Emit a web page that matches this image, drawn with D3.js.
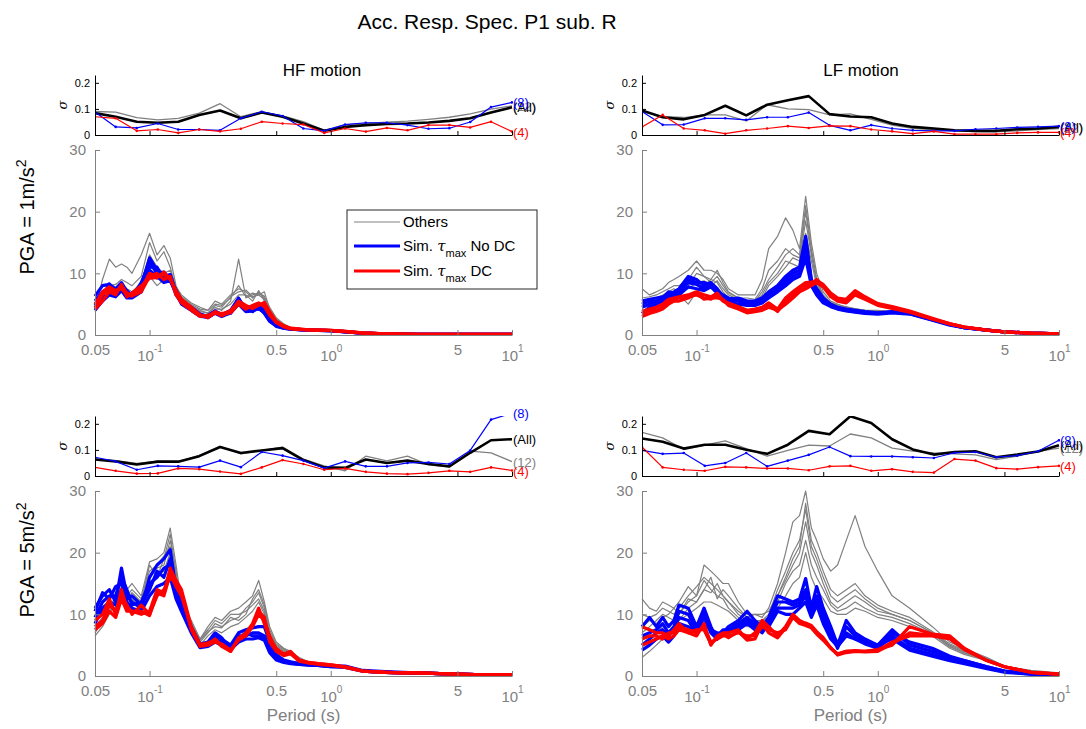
<!DOCTYPE html>
<html>
<head>
<meta charset="utf-8">
<script src="https://cdn.jsdelivr.net/npm/d3@7"></script>
<style>
  body { margin: 0; background: #fff; }
  svg { font-family: "Liberation Sans", Arial, Helvetica, sans-serif; }
</style>
</head>
<body>
<div id="chart"></div>
<script>
// period grid (s) of the spectra and of the sigma curves
var periods = [0.05, 0.055, 0.06, 0.065, 0.07, 0.075, 0.08, 0.09, 0.1, 0.11, 0.12, 0.13, 0.14, 0.15, 0.17, 0.19, 0.21, 0.23, 0.25, 0.28, 0.31, 0.34, 0.37, 0.4, 0.43, 0.46, 0.5, 0.55, 0.6, 0.67, 0.75, 0.85, 1.0, 1.2, 1.5, 2, 2.5, 3, 4, 5, 7, 10];
var sigmaPeriods = [0.05, 0.065, 0.085, 0.111, 0.144, 0.188, 0.245, 0.319, 0.416, 0.542, 0.706, 0.92, 1.2, 1.56, 2.04, 2.65, 3.46, 4.51, 5.88, 7.66, 10];

var xTicks = [0.05, 0.1, 0.5, 1, 5, 10];
var xTickLabels = [["0.05", ""], ["10", "-1"], ["0.5", ""], ["10", "0"], ["5", ""], ["10", "1"]];
var yTicksMain = [0, 10, 20, 30];
var yTicksSigma = [0, 0.1, 0.2];

// ---- HF motion, PGA = 1 m/s2
var hf1Grey = [
  [4, 9, 12.3, 11, 11.5, 11, 10, 13, 16.5, 13, 14.5, 12.5, 8, 6, 4.8, 4, 3.5, 4.5, 4, 5.5, 12.3, 6, 6.5, 6.8, 6.3, 4.5, 2.8, 1.8, 1.2, 1, 0.9, 0.85, 0.8, 0.6, 0.35, 0.2, 0.15, 0.12, 0.1, 0.1, 0.1, 0.1],
  [4.5, 7, 8, 8.2, 9, 8.5, 8, 9.5, 15, 12, 13.5, 11, 7.5, 6.2, 5, 4.2, 4, 5.5, 5, 6.5, 7.5, 7, 6, 7, 6, 4, 2.5, 1.6, 1.1, 0.95, 0.85, 0.8, 0.75, 0.6, 0.35, 0.2, 0.15, 0.12, 0.1, 0.1, 0.1, 0.1],
  [3.8, 5.5, 6.5, 6.3, 7.5, 6.5, 6.5, 8, 9.5, 8, 9, 8.5, 7, 5.5, 4.5, 3.5, 3.2, 4.2, 4.2, 5, 6.5, 6.5, 5.5, 7.2, 5.5, 3.8, 2.4, 1.5, 1.1, 0.9, 0.85, 0.8, 0.75, 0.6, 0.35, 0.2, 0.15, 0.12, 0.1, 0.1, 0.1, 0.1],
  [4.2, 6, 7, 7.5, 8.5, 7.5, 7, 8.5, 13, 11, 10, 10.5, 7.8, 6.5, 5.2, 4.5, 4, 5, 4.8, 6, 8, 6.2, 6.8, 6.5, 7, 4.2, 2.6, 1.7, 1.2, 1, 0.9, 0.85, 0.8, 0.6, 0.35, 0.2, 0.15, 0.12, 0.1, 0.1, 0.1, 0.1],
  [5, 6.5, 7.2, 7, 7.8, 7, 6.8, 7.8, 10.5, 9, 9.5, 9, 7.2, 5.8, 4.6, 3.8, 3.6, 4.8, 4.5, 6.2, 7, 7.3, 6.2, 6.5, 5.8, 3.6, 2.2, 1.5, 1.1, 0.9, 0.85, 0.8, 0.75, 0.6, 0.35, 0.2, 0.15, 0.12, 0.1, 0.1, 0.1, 0.1]
];
var hf1Blue = [
  [6.3, 8, 8.2, 7.5, 8.5, 7, 6.5, 8, 12.5, 10.5, 9.5, 9.8, 7, 5.5, 4.3, 3.2, 2.8, 3.6, 3.2, 3.8, 5.8, 4.2, 3.8, 4.5, 3.5, 2.2, 1.5, 1.2, 1, 0.85, 0.8, 0.75, 0.7, 0.55, 0.3, 0.2, 0.15, 0.12, 0.1, 0.1, 0.1, 0.1],
  [5.5, 7, 7.5, 7, 7.8, 6.6, 6.8, 7.5, 11, 11, 9, 9.3, 6.5, 5.3, 4.5, 3.4, 3, 3.7, 3.4, 3.5, 5.5, 4.6, 4, 4.8, 4.2, 2.6, 1.6, 1.2, 1, 0.9, 0.8, 0.8, 0.7, 0.55, 0.3, 0.2, 0.15, 0.12, 0.1, 0.1, 0.1, 0.1],
  [4.8, 6.2, 8.3, 6.8, 8, 7.2, 6.2, 8.5, 11.8, 10, 10.2, 9, 7.3, 5.6, 4.2, 3.1, 3.2, 3.9, 3.3, 4, 6, 4, 4.4, 4.2, 3.8, 2.4, 1.5, 1.1, 0.95, 0.85, 0.8, 0.75, 0.7, 0.5, 0.3, 0.2, 0.15, 0.12, 0.1, 0.1, 0.1, 0.1],
  [4, 5.5, 6.5, 6.2, 7.2, 6, 6, 7, 10.5, 9.5, 8.5, 8.8, 6.8, 5, 4, 3, 2.9, 3.5, 3, 3.6, 5, 3.8, 3.9, 4.3, 3.6, 2.3, 1.4, 1.1, 0.95, 0.85, 0.8, 0.75, 0.7, 0.5, 0.3, 0.2, 0.15, 0.12, 0.1, 0.1, 0.1, 0.1]
];
var hf1Red = [
  [4.5, 6.5, 7.5, 7, 8, 6.8, 6.5, 7.5, 10, 9.5, 9.8, 9.2, 7, 5.5, 4.2, 3.2, 3, 3.8, 3.3, 4, 5.3, 4.5, 4.6, 5, 5, 3.5, 2, 1.4, 1.1, 0.9, 0.85, 0.8, 0.75, 0.6, 0.35, 0.2, 0.15, 0.12, 0.1, 0.1, 0.1, 0.1],
  [5, 7, 7.8, 7.2, 7.5, 6.5, 6.3, 7, 9.5, 10, 9, 9.5, 6.5, 5.2, 4, 3, 3.2, 3.5, 3.5, 3.6, 5, 4.2, 4.8, 5.2, 4.6, 3.2, 2.1, 1.3, 1, 0.9, 0.8, 0.8, 0.7, 0.55, 0.3, 0.2, 0.15, 0.12, 0.1, 0.1, 0.1, 0.1],
  [4.2, 5.5, 7, 6.5, 8.2, 6.2, 6.8, 8, 9.2, 9.3, 10.2, 9, 7.2, 5.8, 4.5, 3.3, 2.8, 3.6, 3.1, 3.8, 5.5, 4.8, 4.3, 4.8, 5.3, 3.8, 2.2, 1.5, 1.1, 1, 0.85, 0.8, 0.75, 0.6, 0.35, 0.2, 0.15, 0.12, 0.1, 0.1, 0.1, 0.1]
];
var hf1SigAll = [0.084, 0.070, 0.051, 0.047, 0.051, 0.077, 0.094, 0.064, 0.086, 0.070, 0.044, 0.016, 0.031, 0.038, 0.042, 0.044, 0.048, 0.054, 0.064, 0.086, 0.106];
var hf1Sig12 = [0.090, 0.088, 0.067, 0.058, 0.064, 0.084, 0.120, 0.070, 0.090, 0.073, 0.051, 0.018, 0.040, 0.044, 0.049, 0.053, 0.060, 0.068, 0.081, 0.099, 0.112];
var hf1Sig8 = [0.088, 0.031, 0.027, 0.044, 0.021, 0.021, 0.018, 0.064, 0.089, 0.073, 0.025, 0.016, 0.040, 0.047, 0.047, 0.038, 0.024, 0.026, 0.050, 0.107, 0.125];
var hf1Sig4 = [0.070, 0.064, 0.016, 0.021, 0.008, 0.021, 0.014, 0.024, 0.051, 0.044, 0.040, 0.008, 0.025, 0.013, 0.027, 0.018, 0.038, 0.038, 0.029, 0.051, 0.013];

// ---- LF motion, PGA = 1 m/s2
var lf1Grey = [
  [7.5, 6.5, 7, 7.5, 8.5, 9, 9.5, 10.5, 12, 10.5, 10.5, 10, 9, 7.5, 6.5, 6.5, 6.5, 9, 14, 16, 19, 17, 14, 22.5, 15, 10, 7, 5.5, 5, 4.5, 4.3, 4, 4, 3.8, 3.5, 2.5, 1.7, 1.3, 0.8, 0.5, 0.3, 0.2],
  [5, 5.5, 6, 6.5, 7, 7.5, 7, 8, 10, 9.5, 9, 10.5, 8.5, 7, 6, 5.5, 5.5, 7, 9, 11, 13, 14, 13, 21, 14, 9, 6.5, 5.2, 4.8, 4.5, 4.2, 4, 3.8, 3.8, 3.5, 2.5, 1.7, 1.3, 0.8, 0.5, 0.3, 0.2],
  [4.5, 5, 5.2, 5.5, 6, 6.5, 6.5, 5, 7, 8, 9, 8.5, 7, 6, 5.5, 5.2, 5, 6, 8, 9.5, 11, 12.5, 12, 18.5, 13, 8.5, 6, 5, 4.6, 4.3, 4, 3.8, 3.7, 3.7, 3.4, 2.5, 1.7, 1.3, 0.8, 0.5, 0.3, 0.2],
  [6, 6.2, 6.5, 7, 7.5, 8, 8, 9, 11, 9.5, 8.5, 9.5, 8, 6.8, 6, 6, 5.8, 7.5, 10.5, 12, 14, 13, 12.5, 20, 13.5, 9, 6.2, 5.3, 4.8, 4.6, 4.2, 4, 3.9, 3.8, 3.5, 2.5, 1.7, 1.3, 0.8, 0.5, 0.3, 0.2],
  [5.5, 5.8, 6, 6.2, 6.8, 7, 7.2, 7.5, 8.5, 8.8, 8, 8.8, 7.5, 6.5, 5.8, 5.6, 5.4, 6.5, 8.5, 10, 12, 11.5, 11, 16.5, 12, 8, 6, 5, 4.5, 4.2, 4, 3.8, 3.6, 3.6, 3.4, 2.4, 1.6, 1.2, 0.8, 0.5, 0.3, 0.2]
];
var lf1Blue = [
  [5.5, 5.8, 6, 6.2, 6.5, 7, 7.5, 9.5, 9, 8, 8.5, 7.5, 6.2, 5.8, 6, 5.5, 5.5, 6, 7, 8, 9.5, 10.5, 11, 16, 9, 7.5, 6, 5, 4.5, 4.2, 4, 3.8, 3.6, 3.8, 3.6, 2.5, 1.7, 1.2, 0.8, 0.5, 0.3, 0.2],
  [4.5, 5, 5.5, 5.8, 6.2, 6.5, 7, 8.5, 8.2, 7.5, 8, 7, 6, 5.5, 5.5, 5, 5, 5.5, 6.5, 7.5, 8.5, 9.5, 10, 14, 8.5, 7, 5.5, 4.8, 4.3, 4, 3.8, 3.6, 3.5, 3.7, 3.5, 2.5, 1.7, 1.2, 0.8, 0.5, 0.3, 0.2],
  [3.5, 4.5, 5, 5.5, 6, 6.2, 6.5, 7.8, 7.5, 7.2, 7.8, 6.8, 5.8, 5.2, 5, 4.8, 4.8, 5.2, 6, 7, 8, 9, 9.5, 12.5, 8, 6.5, 5.2, 4.6, 4.2, 3.9, 3.7, 3.5, 3.4, 3.6, 3.4, 2.4, 1.6, 1.2, 0.8, 0.5, 0.3, 0.2],
  [5, 5.5, 5.5, 6, 7, 6.8, 7.2, 9, 8.5, 8.5, 8.2, 7.2, 6.5, 6, 5.8, 5.2, 5.3, 5.8, 6.8, 7.8, 9, 10, 10.5, 15, 8.8, 7.2, 5.8, 4.9, 4.4, 4.1, 3.9, 3.7, 3.5, 3.7, 3.5, 2.5, 1.7, 1.2, 0.8, 0.5, 0.3, 0.2]
];
var lf1Red = [
  [3.5, 4, 4, 4.5, 5.5, 5.8, 6, 6.2, 6.5, 6, 5.8, 6.5, 5.5, 5, 4.5, 3.8, 4, 4.3, 5, 3.8, 5.5, 6.5, 7.5, 8, 8.2, 9, 8, 6.5, 5.8, 5.5, 7, 6, 5, 4.5, 3.8, 2.6, 1.8, 1.3, 0.8, 0.5, 0.3, 0.2],
  [3, 3.5, 3.8, 4.2, 5, 5.5, 5.5, 6, 6.8, 5.8, 6, 6, 5.8, 4.8, 4.2, 3.6, 3.8, 4, 4.5, 4, 5, 6, 7, 7.5, 8, 8.5, 7.8, 6.2, 5.5, 5.2, 6.5, 5.8, 4.8, 4.3, 3.7, 2.6, 1.8, 1.3, 0.8, 0.5, 0.3, 0.2],
  [3.8, 4.2, 4.5, 5, 5.8, 6, 6.2, 6.5, 7, 6.5, 6.2, 6.8, 5.6, 5.2, 4.6, 4, 4.2, 4.5, 5.2, 4.2, 6, 7, 7.8, 8.5, 8.6, 8.8, 8.2, 6.8, 6, 5.8, 7.2, 6.2, 5.1, 4.6, 3.9, 2.7, 1.8, 1.3, 0.8, 0.5, 0.3, 0.2]
];
var lf1SigAll = [0.094, 0.068, 0.060, 0.077, 0.112, 0.075, 0.116, 0.133, 0.149, 0.080, 0.071, 0.068, 0.044, 0.031, 0.025, 0.018, 0.016, 0.016, 0.022, 0.025, 0.031];
var lf1Sig12 = [0.090, 0.070, 0.067, 0.077, 0.077, 0.054, 0.116, 0.100, 0.097, 0.077, 0.081, 0.060, 0.038, 0.025, 0.021, 0.016, 0.013, 0.012, 0.016, 0.021, 0.025];
var lf1Sig8 = [0.090, 0.039, 0.040, 0.064, 0.064, 0.058, 0.068, 0.068, 0.086, 0.037, 0.018, 0.038, 0.025, 0.018, 0.016, 0.016, 0.022, 0.025, 0.029, 0.031, 0.034];
var lf1Sig4 = [0.031, 0.077, 0.025, 0.018, 0.005, 0.018, 0.025, 0.034, 0.027, 0.035, 0.034, 0.021, 0.014, 0.005, 0.014, 0.003, 0.003, 0.003, 0.008, 0.010, 0.010];

// ---- HF motion, PGA = 5 m/s2
var hf5Grey = [
  [7, 9, 11, 13, 15, 14, 15, 13, 18.5, 19, 20, 24, 18, 12, 9, 6, 8, 9.5, 9, 10.5, 11, 12, 13, 15.5, 12, 8, 5.5, 4.5, 4, 3, 2.3, 2, 1.8, 1.6, 0.9, 0.7, 0.6, 0.5, 0.4, 0.3, 0.2, 0.2],
  [6.5, 8, 10, 12, 13, 12.5, 13.5, 12, 16, 17.5, 18, 22, 17, 11, 8, 5.5, 7, 8.5, 8, 9, 9.5, 11, 12, 13.5, 11, 7, 5, 4.2, 3.6, 2.8, 2.2, 2, 1.7, 1.5, 0.8, 0.6, 0.5, 0.5, 0.4, 0.3, 0.2, 0.2],
  [8, 9.5, 10.5, 12.5, 14, 13, 14, 12.5, 17, 18, 19.5, 21, 16, 11.5, 8.5, 6, 7.5, 9, 8.5, 10, 10, 10.5, 11.5, 12.5, 10.5, 6.5, 4.8, 4, 3.5, 2.7, 2.2, 1.9, 1.7, 1.5, 0.8, 0.6, 0.5, 0.5, 0.4, 0.3, 0.2, 0.2],
  [9.5, 10, 11.5, 11, 13.5, 12, 12.5, 11, 15, 16.5, 17, 20, 15, 10.5, 7.5, 5, 6.5, 7.5, 7, 8, 8.5, 9.5, 10.5, 12, 10, 6.2, 4.5, 3.8, 3.4, 2.6, 2.1, 1.9, 1.7, 1.4, 0.8, 0.6, 0.5, 0.5, 0.4, 0.3, 0.2, 0.2],
  [7.5, 8.5, 12, 12, 14.5, 13.5, 13, 12, 18, 16, 19, 23, 16.5, 11, 8, 5.8, 7.2, 8, 7.8, 9.5, 9, 10, 12.5, 14, 11.5, 7.5, 5.2, 4.4, 3.8, 2.9, 2.3, 2, 1.8, 1.5, 0.9, 0.7, 0.6, 0.5, 0.4, 0.3, 0.2, 0.2]
];
var hf5Blue = [
  [11, 13, 14, 12, 17.5, 13, 12, 11, 16, 18, 19, 20.5, 14, 12, 8, 5, 5.2, 6.5, 6, 5, 7, 7.5, 7.8, 8, 8, 5.5, 3.5, 2.6, 2.3, 2, 1.9, 1.8, 1.6, 1.6, 0.9, 0.7, 0.6, 0.5, 0.4, 0.3, 0.2, 0.2],
  [9.5, 12, 13, 13, 16, 14, 11.5, 12, 15, 16, 17.5, 18, 13.5, 11.5, 7.5, 4.8, 5, 6, 5.5, 4.5, 6.5, 6.5, 7, 7, 6.5, 4.5, 3.2, 2.5, 2.2, 2, 1.8, 1.7, 1.6, 1.5, 0.8, 0.6, 0.5, 0.5, 0.4, 0.3, 0.2, 0.2],
  [10.5, 13.5, 12.5, 14.5, 15, 12.5, 13, 11.5, 14, 17, 16, 19, 13, 11, 7.8, 5.2, 5.5, 7, 6.2, 4.2, 6, 7, 6.5, 6.5, 6, 4, 2.8, 2.3, 2.1, 1.9, 1.8, 1.7, 1.5, 1.5, 0.8, 0.6, 0.5, 0.5, 0.4, 0.3, 0.2, 0.2],
  [8.5, 11, 12, 11.5, 14, 12, 11, 10.5, 13, 14.5, 15, 16, 12.5, 10.5, 7, 4.6, 4.8, 5.5, 5, 4.3, 5.5, 6, 6, 6.2, 5.8, 3.8, 2.6, 2.2, 2, 1.9, 1.8, 1.7, 1.5, 1.4, 0.8, 0.6, 0.5, 0.5, 0.4, 0.3, 0.2, 0.2]
];
var hf5Red = [
  [9, 10, 12.5, 10, 14, 11, 10.5, 10, 10.5, 14, 13.5, 17.5, 15.5, 14, 8, 5, 5.2, 6, 5, 4, 6, 7, 8.5, 11, 8.5, 6, 4.5, 3.5, 4, 2.5, 2.2, 2, 1.8, 1.5, 0.8, 0.6, 0.5, 0.5, 0.4, 0.3, 0.2, 0.2],
  [8, 9, 11.5, 10.5, 13, 11.5, 10, 11.5, 10, 13, 14, 16, 15, 13.5, 7.5, 4.8, 5, 5.5, 5.2, 4.2, 5.8, 6.5, 8, 10, 9, 6.5, 4.2, 3.6, 3.8, 2.6, 2.2, 2, 1.8, 1.5, 0.8, 0.6, 0.5, 0.5, 0.4, 0.3, 0.2, 0.2],
  [7.5, 8.5, 10.5, 9.5, 12.5, 10.5, 10.5, 10.5, 9.8, 13.5, 13, 16.5, 14.5, 13, 7.8, 5.1, 5.4, 5.8, 4.8, 4, 6.2, 6.8, 8.2, 10.5, 9.5, 5.5, 4, 3.3, 3.6, 2.4, 2.1, 1.9, 1.7, 1.4, 0.8, 0.6, 0.5, 0.5, 0.4, 0.3, 0.2, 0.2]
];
var hf5SigAll = [0.063, 0.056, 0.044, 0.055, 0.055, 0.076, 0.111, 0.088, 0.098, 0.107, 0.061, 0.033, 0.031, 0.063, 0.050, 0.059, 0.046, 0.037, 0.089, 0.137, 0.141];
var hf5Sig12 = [0.065, 0.059, 0.048, 0.057, 0.055, 0.079, 0.114, 0.085, 0.098, 0.111, 0.065, 0.039, 0.020, 0.076, 0.058, 0.076, 0.043, 0.035, 0.095, 0.089, 0.055];
var hf5Sig8 = [0.072, 0.056, 0.024, 0.039, 0.037, 0.034, 0.059, 0.034, 0.092, 0.078, 0.059, 0.030, 0.056, 0.037, 0.037, 0.050, 0.052, 0.046, 0.098, 0.216, 0.241];
var hf5Sig4 = [0.033, 0.020, 0.009, 0.010, 0.029, 0.026, 0.017, 0.008, 0.033, 0.061, 0.046, 0.024, 0.029, 0.016, 0.009, 0.007, 0.012, 0.020, 0.016, 0.033, 0.021];

// ---- LF motion, PGA = 5 m/s2
var lf5Grey = [
  [12.5, 11, 10.5, 12, 11.5, 11, 12, 14.5, 13, 18, 17, 16, 15, 15, 12, 10, 10, 9.5, 11, 15, 20, 25, 26, 30, 24, 22, 19, 17, 18, 22, 26, 21, 17, 13, 11, 8, 5.5, 4.5, 3, 1.6, 0.9, 0.5],
  [10, 9.5, 10, 11, 10.5, 10, 11, 13, 14.5, 16, 15, 14, 13, 12, 10, 9, 9, 9, 10, 14, 17, 20, 22, 27, 21, 19, 16, 13, 12, 13, 14, 12.5, 11, 10, 9, 7, 5, 4, 2.8, 1.5, 0.8, 0.4],
  [3, 4, 5, 6, 7, 8, 9, 11, 12, 14, 13.5, 15, 13, 12, 10.5, 9.5, 8.5, 9, 9.5, 13, 15.5, 18, 20, 25, 20, 18, 15, 12, 11, 12, 13, 12, 10.5, 10, 9, 7, 4.8, 3.8, 2.7, 1.5, 0.8, 0.4],
  [7, 8, 9, 10, 9.5, 9, 10, 12, 13, 15.5, 14, 13, 12.5, 11, 9.5, 8.5, 8.5, 8.5, 9, 12, 15, 17, 18, 22, 18, 16, 14, 11.5, 10.5, 11, 12, 11, 10, 9.5, 8.5, 6.8, 4.7, 3.7, 2.6, 1.4, 0.8, 0.4],
  [5, 6, 7, 8, 8.5, 8.5, 9, 10, 11, 12, 12, 11.5, 11, 10.5, 9, 8, 8, 8, 8.5, 11, 13, 15, 16, 20, 16, 14, 12.5, 10.5, 10, 10, 11, 10.5, 9.5, 9, 8, 6.5, 4.5, 3.5, 2.5, 1.4, 0.7, 0.4],
  [8, 9, 8.5, 9.5, 10, 11, 10, 12.5, 12, 14, 16, 12.5, 14, 13, 11, 9.5, 10, 10, 10.5, 13, 16, 19, 21, 28, 22, 20, 17, 14, 13, 14, 15, 13, 11.5, 10.5, 9.5, 7.2, 5.2, 4.2, 2.9, 1.6, 0.8, 0.4]
];
var lf5Blue = [
  [8, 9.5, 8, 9.5, 8, 9, 11.5, 11, 8, 11, 8, 6, 7, 8, 9, 10.5, 9, 8, 9.5, 13, 12.5, 12, 12.5, 15.8, 11, 14.5, 11, 8, 5, 9, 7, 6, 5, 7.5, 5, 4, 3, 2.5, 1.5, 0.8, 0.4, 0.2],
  [6.5, 7, 7.5, 8.5, 7, 8, 10.5, 10, 7.5, 10, 7.5, 6.5, 7.5, 7.5, 8.5, 9.5, 8.5, 7.5, 9, 12, 12, 11.5, 12, 14, 10.5, 13, 10, 7, 4.5, 8, 6.5, 5.5, 5, 7, 5.5, 4.5, 3.2, 2.5, 1.5, 0.8, 0.4, 0.2],
  [5, 6, 7, 7.5, 6.5, 7.5, 9.5, 9, 7, 9.5, 7, 6, 7, 7, 8, 9, 8, 7, 8.5, 11, 11, 11, 11.5, 13, 10, 12, 9, 6.5, 5.5, 7, 6, 5.2, 4.5, 6.5, 4.5, 3.5, 2.8, 2.2, 1.3, 0.7, 0.3, 0.2],
  [4.2, 5, 6, 6.5, 5.5, 6.5, 8.5, 8, 7.2, 8.5, 7.5, 7, 6.8, 7.2, 7.5, 8.5, 7.5, 7.5, 8, 10.5, 10, 10, 11, 12, 9.5, 11.5, 8.5, 6, 4.8, 6.5, 6, 5.5, 5, 6, 4.2, 3.2, 2.5, 2, 1.2, 0.6, 0.3, 0.2]
];
var lf5Red = [
  [8, 7.5, 7, 7, 6.5, 7.5, 8.5, 7, 6.5, 8.5, 5, 6.5, 7, 7, 7.5, 6, 7, 9, 8, 6.5, 8, 10, 9, 8.5, 8, 7, 6, 4.5, 3.5, 4, 4, 4, 4.3, 5, 8, 6.8, 6.5, 4.5, 2.5, 1.5, 0.6, 0.3],
  [6, 6.5, 6.5, 6, 7, 7, 8, 7.5, 7, 8, 5.5, 6, 6.5, 6.5, 7, 6.5, 6.5, 8, 7.5, 7, 7.5, 9.5, 8.5, 8.2, 7.8, 6.8, 5.8, 4.5, 3.6, 4, 4.1, 4, 4.2, 5.5, 6.5, 6.5, 6, 4.3, 2.5, 1.5, 0.6, 0.3],
  [5, 5.5, 6, 6.5, 6, 6.5, 7.5, 7, 7.5, 7.5, 5.2, 6.2, 6.8, 6.2, 7.2, 5.8, 6, 8.5, 7, 6.2, 7.8, 9.8, 8.8, 8.6, 8.2, 7.2, 6.2, 4.6, 3.4, 3.8, 4, 3.9, 4, 5.2, 7, 6.6, 6.2, 4.4, 2.5, 1.5, 0.6, 0.3]
];
var lf5SigAll = [0.144, 0.131, 0.105, 0.120, 0.120, 0.101, 0.085, 0.120, 0.173, 0.160, 0.229, 0.203, 0.141, 0.102, 0.082, 0.092, 0.095, 0.072, 0.082, 0.094, 0.118];
var lf5Sig12 = [0.167, 0.146, 0.102, 0.118, 0.135, 0.105, 0.076, 0.098, 0.118, 0.115, 0.161, 0.146, 0.107, 0.095, 0.089, 0.085, 0.081, 0.063, 0.076, 0.094, 0.107];
var lf5Sig8 = [0.098, 0.085, 0.088, 0.039, 0.050, 0.088, 0.037, 0.059, 0.081, 0.111, 0.076, 0.075, 0.075, 0.072, 0.069, 0.089, 0.092, 0.072, 0.078, 0.095, 0.137];
var lf5Sig4 = [0.111, 0.033, 0.024, 0.020, 0.035, 0.033, 0.029, 0.029, 0.022, 0.037, 0.039, 0.020, 0.026, 0.016, 0.013, 0.065, 0.059, 0.030, 0.026, 0.034, 0.039];

var GREY = "#808080", BLUE = "#0000ff", RED = "#ff0000";

var svg = d3.select("#chart")
  .append("svg")
  .attr("width", 1086)
  .attr("height", 729);

// panel placement
var panels = [
  { id: "hf1", x0: 95, x1: 512, sTop: 75, sBot: 135, mTop: 150, mBot: 335,
    grey: hf1Grey, blue: hf1Blue, red: hf1Red,
    sAll: hf1SigAll, s12: hf1Sig12, s8: hf1Sig8, s4: hf1Sig4, xlabel: false },
  { id: "lf1", x0: 642, x1: 1059, sTop: 75, sBot: 135, mTop: 150, mBot: 335,
    grey: lf1Grey, blue: lf1Blue, red: lf1Red,
    sAll: lf1SigAll, s12: lf1Sig12, s8: lf1Sig8, s4: lf1Sig4, xlabel: false },
  { id: "hf5", x0: 95, x1: 512, sTop: 416, sBot: 476, mTop: 491, mBot: 676,
    grey: hf5Grey, blue: hf5Blue, red: hf5Red,
    sAll: hf5SigAll, s12: hf5Sig12, s8: hf5Sig8, s4: hf5Sig4, xlabel: true },
  { id: "lf5", x0: 642, x1: 1059, sTop: 416, sBot: 476, mTop: 491, mBot: 676,
    grey: lf5Grey, blue: lf5Blue, red: lf5Red,
    sAll: lf5SigAll, s12: lf5Sig12, s8: lf5Sig8, s4: lf5Sig4, xlabel: true }
];

panels.forEach(drawPanel);

function drawPanel(p) {
  var x = d3.scaleLog().domain([0.05, 10]).range([p.x0, p.x1]);
  var y = d3.scaleLinear().domain([0, 30]).range([p.mBot, p.mTop]);
  var ys = d3.scaleLinear().domain([0, 0.23]).range([p.sBot, p.sTop]);

  // ---------- main spectra
  var line = d3.line()
    .x(function(d, i) { return x(periods[i]); })
    .y(function(d) { return y(d); });

  var g = svg.append("g");
  g.selectAll(".grey").data(p.grey).enter().append("path")
    .attr("d", line).attr("fill", "none").attr("stroke", GREY)
    .attr("stroke-width", 1.2).attr("stroke-linejoin", "round");
  g.selectAll(".blue").data(p.blue).enter().append("path")
    .attr("d", line).attr("fill", "none").attr("stroke", BLUE)
    .attr("stroke-width", 3.2).attr("stroke-linejoin", "round");
  g.selectAll(".red").data(p.red).enter().append("path")
    .attr("d", line).attr("fill", "none").attr("stroke", RED)
    .attr("stroke-width", 3.2).attr("stroke-linejoin", "round");

  // main axes (grey, ticks pointing in)
  var gx = svg.append("g")
    .attr("transform", "translate(0," + p.mBot + ")")
    .call(d3.axisBottom(x).tickValues(xTicks).tickFormat("").tickSizeInner(-5).tickSizeOuter(0));
  gx.selectAll("path,line").attr("stroke", GREY);
  gx.selectAll(".tick").each(function(d, i) {
    var lab = xTickLabels[i];
    var t = d3.select(this).append("text")
      .attr("fill", GREY).attr("font-size", 15).attr("text-anchor", "middle")
      .attr("y", lab[1] ? 26 : 20);
    t.append("tspan").text(lab[0]);
    if (lab[1]) t.append("tspan").attr("font-size", 10).attr("dy", -9).text(lab[1]);
  });

  var gy = svg.append("g")
    .attr("transform", "translate(" + p.x0 + ",0)")
    .call(d3.axisLeft(y).tickValues(yTicksMain).tickSizeInner(-5).tickSizeOuter(0).tickPadding(9));
  gy.selectAll("path,line").attr("stroke", GREY);
  gy.selectAll("text").attr("fill", GREY).attr("font-size", 15)
    .attr("font-family", "Liberation Sans, Arial, sans-serif");

  if (p.xlabel) {
    svg.append("text")
      .attr("x", (p.x0 + p.x1) / 2).attr("y", 721)
      .attr("text-anchor", "middle").attr("font-size", 17).attr("fill", GREY)
      .text("Period (s)");
  }

  // ---------- sigma panel
  var clipId = "clip-" + p.id;
  svg.append("clipPath").attr("id", clipId).append("rect")
    .attr("x", p.x0).attr("y", p.sTop).attr("width", p.x1 - p.x0 + 1).attr("height", p.sBot - p.sTop);

  var sline = d3.line()
    .x(function(d, i) { return x(sigmaPeriods[i]); })
    .y(function(d) { return ys(d); });

  var gs = svg.append("g").attr("clip-path", "url(#" + clipId + ")");
  var sig = [
    { v: p.s12, c: GREY, w: 1.3, dots: false, lab: "(12)" },
    { v: p.sAll, c: "#000", w: 2.6, dots: false, lab: "(All)" },
    { v: p.s8, c: BLUE, w: 1.2, dots: true, lab: "(8)" },
    { v: p.s4, c: RED, w: 1.2, dots: true, lab: "(4)" }
  ];
  sig.forEach(function(s) {
    gs.append("path").attr("d", sline(s.v)).attr("fill", "none")
      .attr("stroke", s.c).attr("stroke-width", s.w).attr("stroke-linejoin", "round");
    if (s.dots) {
      gs.selectAll(null).data(s.v).enter().append("circle")
        .attr("cx", function(d, i) { return x(sigmaPeriods[i]); })
        .attr("cy", function(d) { return ys(d); })
        .attr("r", 1.3).attr("fill", s.c);
    }
  });
  sig.forEach(function(s) {
    svg.append("text")
      .attr("x", p.x1 + 1).attr("y", ys(s.v[s.v.length - 1]) + 5)
      .attr("font-size", 13).attr("fill", s.c).text(s.lab);
  });

  var gsx = svg.append("g")
    .attr("transform", "translate(0," + p.sBot + ")")
    .call(d3.axisBottom(x).tickValues(xTicks).tickFormat("").tickSizeInner(-4).tickSizeOuter(0));
  gsx.selectAll("path,line").attr("stroke", "#000");

  var gsy = svg.append("g")
    .attr("transform", "translate(" + p.x0 + ",0)")
    .call(d3.axisLeft(ys).tickValues(yTicksSigma).tickSizeInner(-4).tickSizeOuter(0).tickPadding(5)
      .tickFormat(function(d) { return d === 0 ? "0" : d.toFixed(1); }));
  gsy.selectAll("path,line").attr("stroke", "#000");
  gsy.selectAll("text").attr("fill", "#000").attr("font-size", 11)
    .attr("font-family", "Liberation Sans, Arial, sans-serif");

  svg.append("text")
    .attr("transform", "translate(" + (p.x0 - 28) + "," + ((p.sTop + p.sBot) / 2) + ") rotate(-90)")
    .attr("text-anchor", "middle").attr("font-size", 13).attr("font-family", "DejaVu Serif, serif")
    .attr("font-style", "italic").text("σ");
}

// ---------- titles and labels
svg.append("text").attr("x", 487).attr("y", 29).attr("text-anchor", "middle")
  .attr("font-size", 21).text("Acc. Resp. Spec. P1 sub. R");
svg.append("text").attr("x", 322).attr("y", 76).attr("text-anchor", "middle")
  .attr("font-size", 17).text("HF motion");
svg.append("text").attr("x", 861).attr("y", 76).attr("text-anchor", "middle")
  .attr("font-size", 17).text("LF motion");

[["1", 217], ["5", 560]].forEach(function(r) {
  var t = svg.append("text")
    .attr("transform", "translate(34," + r[1] + ") rotate(-90)")
    .attr("text-anchor", "middle").attr("font-size", 20);
  t.append("tspan").text("PGA = " + r[0] + "m/s");
  t.append("tspan").attr("font-size", 14).attr("dy", -8).text("2");
});

// ---------- legend (top-left main panel)
var legendItems = [
  { c: GREY, w: 1.2, main: "Others", sub: "", tail: "" },
  { c: BLUE, w: 3.2, main: "Sim. ", sub: "max", tail: " No DC" },
  { c: RED, w: 3.2, main: "Sim. ", sub: "max", tail: " DC" }
];
var legend = svg.append("g");
legend.append("rect").attr("x", 347).attr("y", 210).attr("width", 190).attr("height", 79)
  .attr("fill", "#fff").attr("stroke", "#262626").attr("stroke-width", 1);
legendItems.forEach(function(it, i) {
  var ly = [222, 246, 271][i];
  legend.append("line").attr("x1", 354).attr("x2", 400).attr("y1", ly).attr("y2", ly)
    .attr("stroke", it.c).attr("stroke-width", it.w);
  var t = legend.append("text").attr("x", 403).attr("y", ly + 5).attr("font-size", 15);
  t.append("tspan").text(it.main);
  if (it.sub) {
    t.append("tspan").attr("font-family", "DejaVu Serif, serif").attr("font-style", "italic").text("τ");
    t.append("tspan").attr("font-size", 11).attr("dy", 6).text(it.sub);
    t.append("tspan").attr("dy", -6).text(it.tail);
  }
});
</script>
</body>
</html>
